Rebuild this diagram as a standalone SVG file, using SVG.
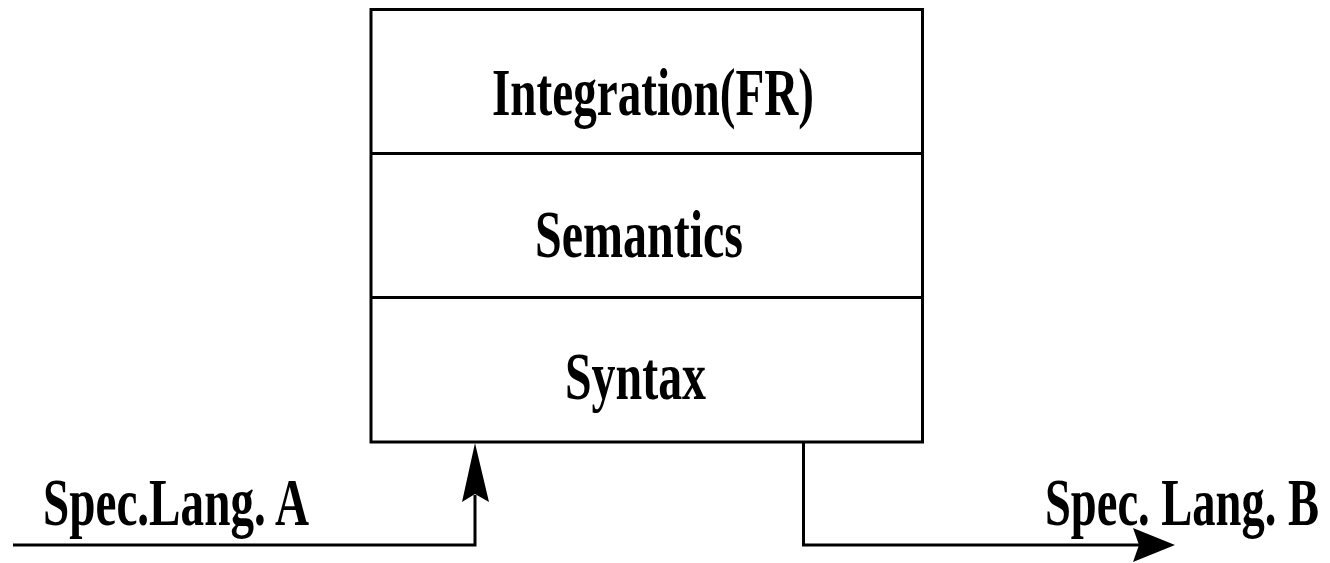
<svg xmlns="http://www.w3.org/2000/svg" width="1330" height="563" viewBox="0 0 1330 563">
<style>
.ln{fill:none;stroke:#000;stroke-width:3}
.t{font-family:"Liberation Serif","Times New Roman",serif;font-weight:bold;font-size:68px;fill:#000}
.ah{fill:#000;stroke:none}
</style>
<rect x="0" y="0" width="1330" height="563" fill="#fff"/>
<g id="box">
<rect class="ln" x="371" y="9.5" width="551.5" height="432.5"/>
</g>
<g id="integration">
<line class="ln" x1="371" y1="153.5" x2="922.5" y2="153.5"/>
<text class="t" x="492" y="115" textLength="322" lengthAdjust="spacingAndGlyphs">Integration(FR)</text>
</g>
<g id="semantics">
<line class="ln" x1="371" y1="297.5" x2="922.5" y2="297.5"/>
<text class="t" x="535" y="257" textLength="208" lengthAdjust="spacingAndGlyphs">Semantics</text>
</g>
<g id="syntax">
<text class="t" x="565" y="399" textLength="141" lengthAdjust="spacingAndGlyphs">Syntax</text>
</g>
<g id="labelA">
<text class="t" x="43" y="525" textLength="266" lengthAdjust="spacingAndGlyphs">Spec.Lang. A</text>
</g>
<g id="labelB">
<text class="t" x="1045" y="525" textLength="274" lengthAdjust="spacingAndGlyphs">Spec. Lang. B</text>
</g>
<g id="connectors">
<polyline class="ln" points="13,545 475,545 475,495"/>
<polygon class="ah" points="475,443 489,502 475,494 462,502"/>
<polyline class="ln" points="803.5,442 803.5,545 1140,545"/>
<polygon class="ah" points="1175,545 1133,562 1139,545 1133,528"/>
</g>
</svg>
